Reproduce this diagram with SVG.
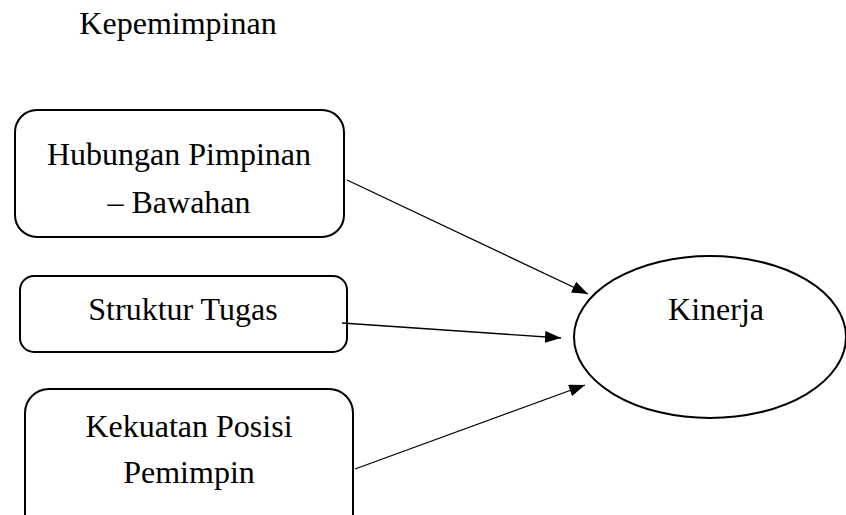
<svg xmlns="http://www.w3.org/2000/svg" width="846" height="515" viewBox="0 0 846 515">
<style>
text{font-family:"Liberation Serif","Times New Roman",serif;font-size:32px;fill:#000;text-anchor:middle}
.box{fill:#fff;stroke:#000;stroke-width:2}
.conn{stroke:#000;stroke-width:1.3;fill:none;marker-end:url(#ah)}
</style>
<defs>
<marker id="ah" markerWidth="16" markerHeight="12" refX="16" refY="6" orient="auto" markerUnits="userSpaceOnUse">
<path d="M0,0 L16,6 L0,12 Z" fill="#000"/>
</marker>
</defs>
<text x="178" y="34">Kepemimpinan</text>
<g id="n1">
<rect class="box" x="15" y="110" width="329" height="127" rx="22"/>
<text x="179" y="165">Hubungan Pimpinan</text>
<text x="179" y="213">– Bawahan</text>
</g>
<g id="n2">
<rect class="box" x="20" y="276" width="327" height="76" rx="14"/>
<text x="183" y="320">Struktur Tugas</text>
</g>
<g id="n3">
<rect class="box" x="25" y="389" width="328" height="150" rx="24"/>
<text x="189" y="437">Kekuatan Posisi</text>
<text x="189" y="483">Pemimpin</text>
</g>
<g id="n4">
<ellipse class="box" cx="710" cy="337" rx="136" ry="81"/>
<text x="716" y="320">Kinerja</text>
</g>
<g id="connectors">
<line class="conn" x1="347" y1="180" x2="588" y2="294"/>
<line class="conn" x1="342" y1="323" x2="561" y2="338"/>
<line class="conn" x1="355" y1="469" x2="585" y2="385"/>
</g>
</svg>
